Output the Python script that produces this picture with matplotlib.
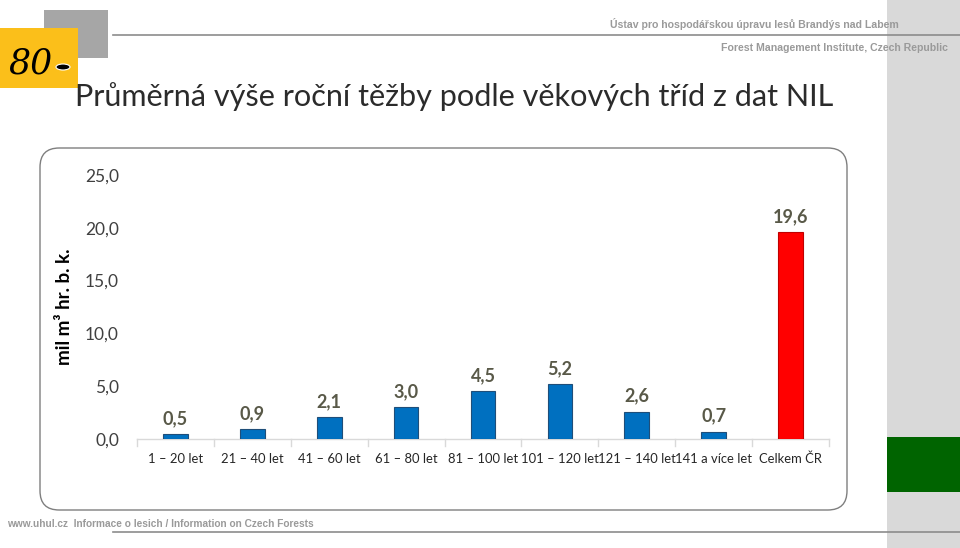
import matplotlib
matplotlib.use("Agg")
import matplotlib.pyplot as plt
from matplotlib.patches import Rectangle, FancyBboxPatch, Ellipse
from matplotlib.lines import Line2D

categories = ["1 – 20 let", "21 – 40 let", "41 – 60 let", "61 – 80 let", "81 – 100 let",
              "101 – 120 let", "121 – 140 let", "141 a více let", "Celkem ČR"]
values = [0.5, 0.9, 2.1, 3.0, 4.5, 5.2, 2.6, 0.7, 19.6]
colors = ["#0070c0"] * 8 + ["#ff0000"]
edges = ["#1f4e79"] * 8 + ["#c00000"]
yticks = [0, 5, 10, 15, 20, 25]

W, H = 960, 548
fig = plt.figure(figsize=(W / 100, H / 100), dpi=100)
fig.patch.set_facecolor("white")

def fx(x): return x / W
def fy(y): return 1 - y / H

# right gray strip and green box
fig.patches.append(Rectangle((fx(887), 0), fx(73), 1, transform=fig.transFigure,
                             facecolor="#d9d9d9", edgecolor="none", zorder=0))
fig.patches.append(Rectangle((fx(887), fy(492)), fx(73), (492 - 437) / H,
                             transform=fig.transFigure, facecolor="#006400",
                             edgecolor="none", zorder=1))
# header / footer lines
fig.lines.append(Line2D([fx(113), 1], [fy(35), fy(35)], transform=fig.transFigure,
                        color="#8c8c8c", lw=1.2))
fig.lines.append(Line2D([fx(113), 1], [fy(532), fy(532)], transform=fig.transFigure,
                        color="#8c8c8c", lw=1.2))
# logo squares
fig.patches.append(Rectangle((fx(44), fy(58)), fx(64), (58 - 10) / H,
                             transform=fig.transFigure, facecolor="#a6a6a6",
                             edgecolor="none", zorder=1))
fig.patches.append(Rectangle((0, fy(88)), fx(78), (88 - 28) / H,
                             transform=fig.transFigure, facecolor="#fbbf1a",
                             edgecolor="none", zorder=2))
fig.text(fx(8), fy(63), "80", fontsize=25, family="DejaVu Serif", style="italic",
         color="black", va="center", ha="left", zorder=3)
fig.patches.append(Ellipse((fx(63), fy(67)), fx(14), 6 / H, transform=fig.transFigure,
                           facecolor="black", edgecolor="white", lw=0.8, zorder=4))

# header texts
fig.text(fx(899), fy(24), "Ústav pro hospodářskou úpravu lesů Brandýs nad Labem",
         ha="right", va="center", fontsize=7.6, fontweight="bold", color="#9a9a9a",
         family="Liberation Sans")
fig.text(fx(948), fy(48), "Forest Management Institute, Czech Republic",
         ha="right", va="center", fontsize=7.6, fontweight="bold", color="#9a9a9a",
         family="Liberation Sans")
fig.text(fx(7), fy(524), "www.uhul.cz  Informace o lesich / Information on Czech Forests",
         ha="left", va="center", fontsize=7.3, fontweight="bold", color="#9a9a9a",
         family="Liberation Sans")

# title
fig.text(fx(75), fy(97), "Průměrná výše roční těžby podle věkových tříd z dat NIL",
         ha="left", va="center", fontsize=22.1, color="#2b2b2b", family="Lato",
         fontweight="normal")

# chart box
fig.patches.append(FancyBboxPatch((fx(40), fy(510)), fx(807), (510 - 148) / H,
                                  boxstyle="round,pad=0,rounding_size=0.02",
                                  transform=fig.transFigure, facecolor="white",
                                  edgecolor="#7f7f7f", lw=1.0, zorder=1,
                                  mutation_aspect=W / H))

ax = fig.add_axes([fx(137), fy(439), fx(829 - 137), (439 - 175) / H])
ax.set_zorder(5)
ax.patch.set_alpha(0)
x = list(range(len(categories)))
ax.bar(x, values, width=0.32, color=colors, edgecolor=edges, linewidth=0.8, zorder=3)
ax.set_xlim(-0.5, len(categories) - 0.5)
ax.set_ylim(0, 25)
for s in ["left", "right", "top"]:
    ax.spines[s].set_visible(False)
ax.spines["bottom"].set_color("#d9d9d9")
ax.spines["bottom"].set_linewidth(1.0)
ax.set_yticks(yticks)
ax.set_yticklabels([f"{v:.1f}".replace(".", ",") for v in yticks],
                   fontsize=12.5, color="#404040", family="Lato")
ax.tick_params(axis="y", length=0, pad=13)
ax.set_xticks(x)
ax.set_xticklabels(categories, fontsize=9.4, color="#262626", family="Lato")
ax.tick_params(axis="x", length=0, pad=10)
# category separators
for b in [i - 0.5 for i in range(len(categories) + 1)]:
    ax.plot([b, b], [0, -0.7], color="#d9d9d9", lw=1.0, clip_on=False, zorder=2)
for xi, v in zip(x, values):
    ax.annotate(f"{v:.1f}".replace(".", ","), (xi, v), xytext=(0, 5),
                textcoords="offset points", ha="center", va="bottom",
                fontsize=13, fontweight="bold", color="#595948", family="Lato")
ax.set_ylabel("mil m³ hr. b. k.", fontsize=13.5, fontweight="bold", color="black",
              family="Lato")
ax.yaxis.set_label_coords((73 - 137) / (829 - 137), 0.5)

fig.savefig("out.png", dpi=100)
